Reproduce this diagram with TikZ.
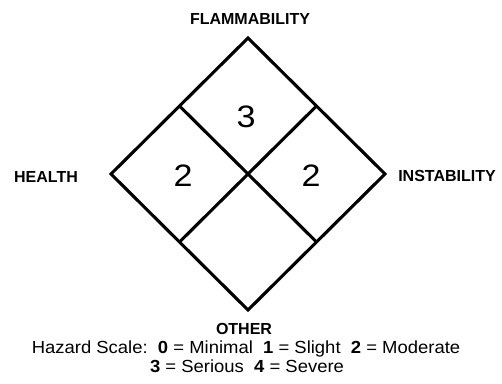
\documentclass[tikz,border=0pt]{standalone}
\usepackage{fontspec}
\usepackage{graphicx}
\setmainfont{Liberation Sans}
\usetikzlibrary{calc}
\begin{document}
\begin{tikzpicture}[x=1pt,y=-1pt,
  edge/.style={line width=3.1pt,line join=miter,line cap=butt},
  lbl/.style={font=\fontsize{16}{17}\selectfont\bfseries,inner sep=0pt,anchor=center},
  num/.style={font=\fontsize{31}{33}\selectfont,inner sep=0pt},
  legendtxt/.style={font=\fontsize{17.5}{19}\selectfont,inner sep=0pt,anchor=base}]
\useasboundingbox (0,0) rectangle (502,383);
\coordinate (T) at (248,38);
\coordinate (L) at (111,174);
\coordinate (R) at (385,174);
\coordinate (B) at (248,310);
\coordinate (TL) at ($(T)!0.5!(L)$);
\coordinate (TR) at ($(T)!0.5!(R)$);
\coordinate (BL) at ($(B)!0.5!(L)$);
\coordinate (BR) at ($(B)!0.5!(R)$);
\draw[edge] (T) -- (R) -- (B) -- (L) -- cycle;
\draw[edge] (TL) -- (BR);
\draw[edge] (TR) -- (BL);
\node[num] (n3) at (246,117) {\scalebox{1.1}[1]{3}};
\node[num] (n2a) at (183,176) {\scalebox{1.1}[1]{2}};
\node[num] (n2b) at (311,176) {\scalebox{1.1}[1]{2}};
\node[lbl] (fl) at (250,19) {FLAMMABILITY};
\node[lbl] (he) at (46,177) {HEALTH};
\node[lbl] (in) at (447,176) {INSTABILITY};
\node[lbl,anchor=base] (ot) at (244,334) {OTHER};
\node[legendtxt] (s1) at (246,353) {\scalebox{1.055}[1]{Hazard Scale:\ \ \textbf{0} = Minimal\ \ \textbf{1} = Slight\ \ \textbf{2} = Moderate}};
\node[legendtxt] (s2) at (247,372) {\scalebox{1.055}[1]{\textbf{3} = Serious\ \ \textbf{4} = Severe}};
\end{tikzpicture}
\end{document}
